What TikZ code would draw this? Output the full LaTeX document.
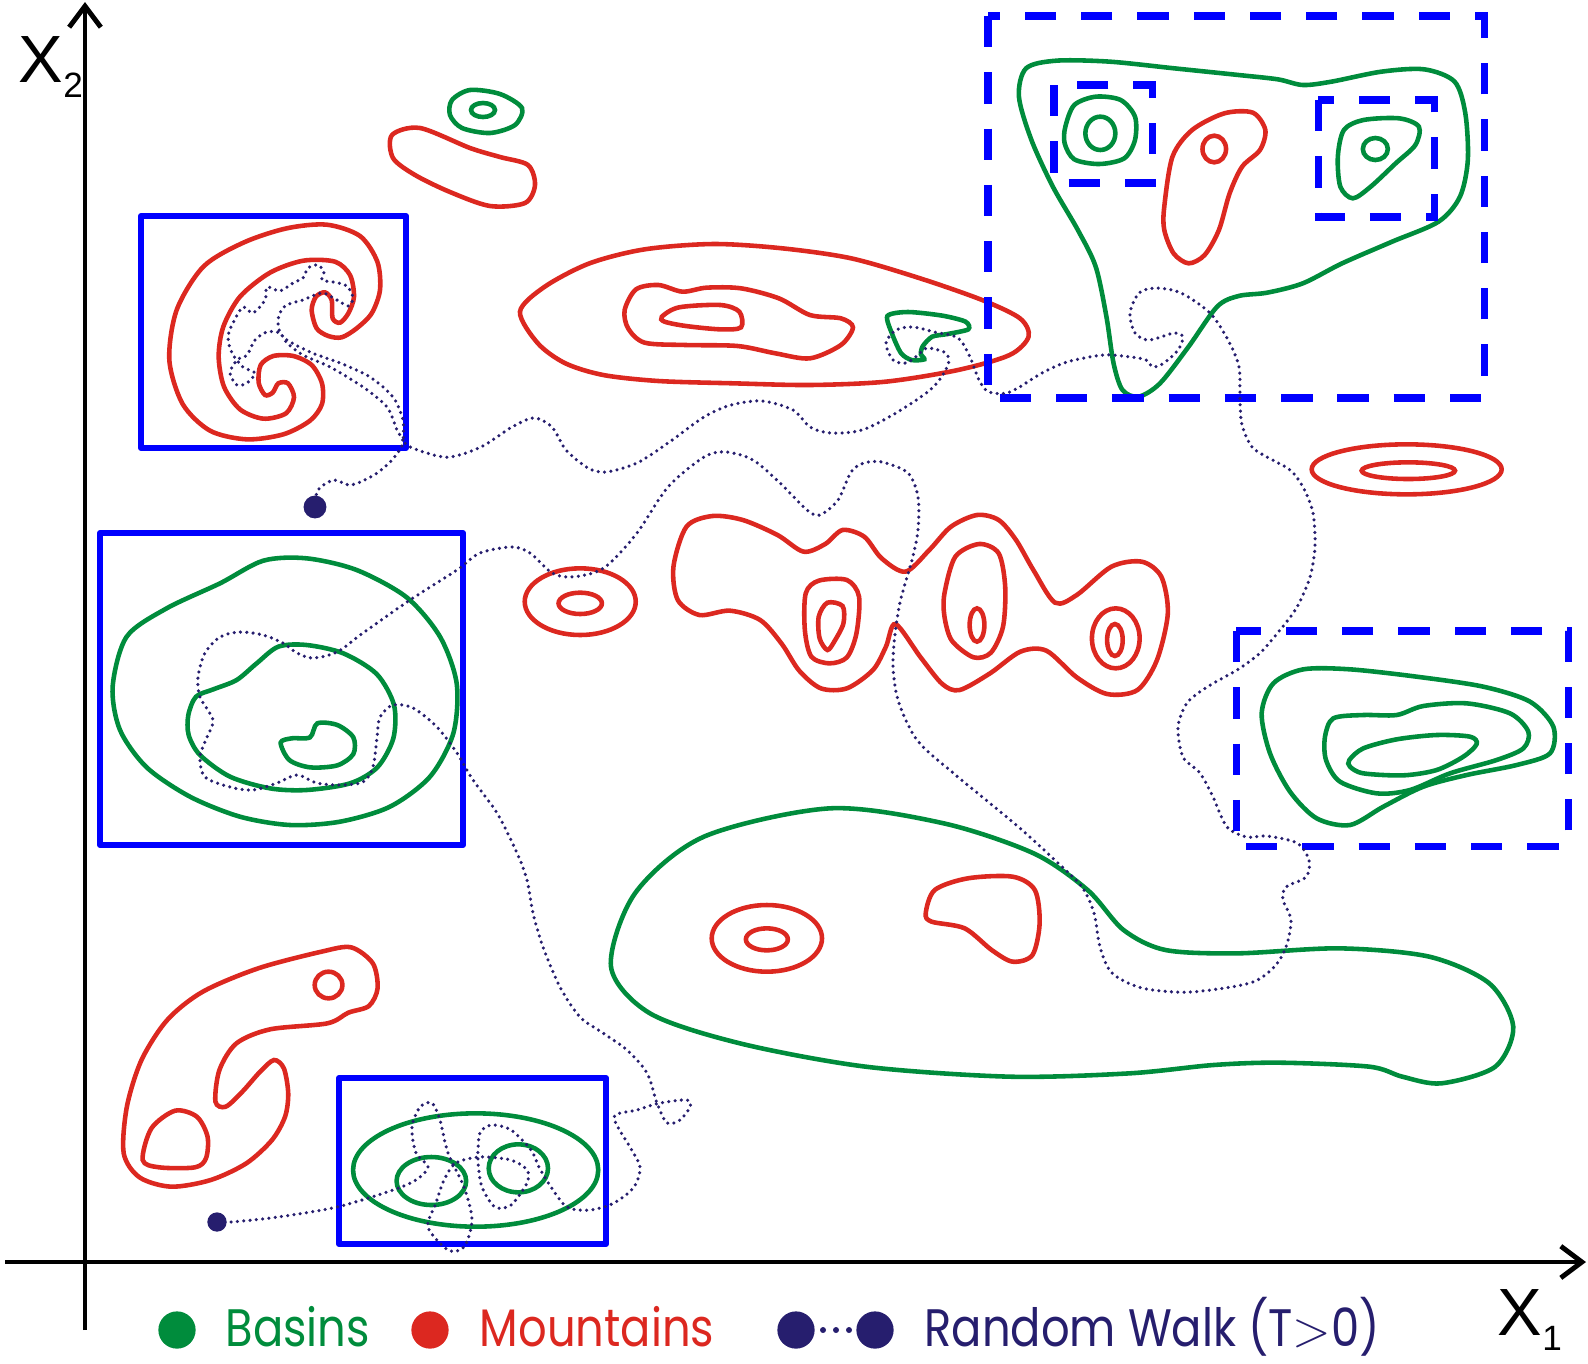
\documentclass[tikz,border=0pt]{standalone}
\usepackage{fontspec}
\setmainfont{Liberation Sans}
\newfontfamily\legendfont{Poppins}[FakeStretch=0.85]
\usepackage{xcolor}
\usetikzlibrary{arrows.meta}
\definecolor{basingreen}{RGB}{0,140,60}
\definecolor{mountred}{RGB}{220,40,32}
\definecolor{boxblue}{RGB}{0,0,255}
\definecolor{walknavy}{RGB}{38,30,110}

\begin{document}
\begin{tikzpicture}[
                x=0.01cm, y=-0.01cm, % 按像素定位
                basin/.style={draw=basingreen, line width=1.3pt},
                mountain/.style={draw=mountred, line width=1.3pt},
                walkline/.style={draw=walknavy, line width=1pt, line cap=round, dash pattern=on 0pt off 1.8pt},
                keybox/.style={draw=boxblue, line width=1.75pt, line join=round},
                dashbox/.style={draw=boxblue, line width=2pt, dash pattern=on 8.9pt off 7.1pt},
                axisline/.style={line width=1.4pt, -{Straight Barb[length=6pt,width=9pt]}},
                legtext/.style={anchor=base west, inner sep=0pt, font=\legendfont\fontsize{15}{15}\selectfont},
                legdot/.style={circle, inner sep=0pt, minimum size=10.6pt},
            ]
            \useasboundingbox (0,0) rectangle (1588,1363);
            % 坐标轴
            \draw[axisline] (85,1330) -- (85,2);
            \draw[axisline] (5,1262) -- (1586,1262);
            \node[anchor=base west, inner sep=0pt, font=\fontsize{19}{19}\selectfont] (xtwo) at (18,82) {X\raisebox{-4.3pt}{\fontsize{10}{10}\selectfont 2}};
            \node[anchor=base west, inner sep=0pt, font=\fontsize{19}{19}\selectfont] (xone) at (1497,1335) {X\raisebox{-4.3pt}{\fontsize{10}{10}\selectfont 1}};

            % 左上：螺旋山
            \begin{scope}[shift={(130,200)}, scale=1/3]
                \draw[mountain] plot[smooth cycle] coordinates {(750,270) (725,340) (680,385) (635,412) (595,408) (560,385) (545,330) (558,290) (585,277) (605,300) (608,355) (630,368) (655,340) (672,290) (660,225) (615,185) (520,182) (420,218) (330,290) (280,380) (266,470) (282,560) (330,628) (400,656) (468,640) (492,592) (474,550) (445,550) (428,578) (405,585) (386,548) (392,495) (430,468) (490,468) (545,495) (576,550) (576,612) (540,662) (460,703) (350,718) (240,692) (158,612) (118,480) (140,330) (220,200) (340,128) (470,85) (590,74) (690,108) (742,185)};
            \end{scope}

            % 上方小山和小盆地
            \draw[mountain] plot[smooth cycle] coordinates {(392,135) (420,128) (470,148) (500,157) (528,165) (535,185) (525,203) (490,206) (450,192) (415,175) (393,158)};
            \draw[basin] plot[smooth cycle] coordinates {(452,100) (470,90) (500,94) (522,108) (515,125) (490,133) (462,128) (450,115)};
            \draw[basin] (483,110) ellipse (12 and 7);

            % 中部长条山
            \begin{scope}[shift={(500,220)}, xscale=1/2.904, yscale=1/3]
                \draw[mountain] plot[smooth cycle] coordinates {(58,275) (130,200) (260,130) (420,88) (620,72) (820,85) (1020,115) (1220,175) (1400,240) (1510,295) (1535,350) (1480,405) (1330,450) (1120,485) (900,495) (680,490) (460,483) (300,465) (190,430) (110,370)};
                \draw[mountain] plot[smooth cycle] coordinates {(362,270) (395,208) (460,195) (530,215) (600,203) (700,205) (810,235) (900,285) (990,295) (1025,322) (990,375) (900,415) (800,400) (690,378) (540,375) (420,368) (372,325)};
                \draw[mountain] plot[smooth cycle] coordinates {(470,290) (520,262) (640,255) (695,275) (700,322) (640,328) (540,318) (478,305)};
                \draw[basin] plot[smooth cycle, tension=0.45] coordinates {(1125,288) (1185,276) (1285,287) (1352,305) (1360,328) (1300,342) (1255,350) (1228,378) (1222,402) (1232,418) (1195,420) (1165,400) (1140,345)};
            \end{scope}

            % 右上大盆地
            \begin{scope}[shift={(960,0)}, xscale=1/2.8, yscale=1/3]
                \draw[basin] plot[smooth cycle] coordinates {(165,290) (185,205) (270,182) (420,185) (600,205) (780,225) (890,238) (960,255) (1040,245) (1180,215) (1300,208) (1385,245) (1415,340) (1422,480) (1400,590) (1340,665) (1210,725) (1070,790) (960,850) (860,878) (780,888) (720,920) (640,1040) (560,1150) (500,1190) (455,1170) (430,1090) (410,950) (380,800) (330,690) (260,560) (200,420)};
                \draw[mountain] plot[smooth cycle] coordinates {(572,620) (595,470) (650,390) (740,340) (820,338) (855,390) (840,450) (790,500) (755,580) (725,690) (685,765) (640,790) (598,760) (572,690)};
                \draw[mountain] (712,447) ellipse (33 and 40);
                \draw[basin] plot[smooth cycle] coordinates {(295,380) (320,315) (380,290) (450,300) (490,350) (490,420) (460,475) (390,492) (320,478) (293,430)};
                \draw[basin] (393,400) ellipse (42 and 50);
                \draw[basin] plot[smooth cycle] coordinates {(1058,470) (1075,390) (1130,360) (1230,355) (1285,380) (1275,435) (1220,490) (1150,560) (1100,595) (1065,560)};
                \draw[basin] (1163,447) ellipse (35 and 33);
            \end{scope}

            % 右侧扁山和盆地
            \begin{scope}[shift={(1150,420)}, scale=1/3]
                \draw[mountain] (770,148) ellipse (285 and 75);
                \draw[mountain] (775,152) ellipse (140 and 25);
                \draw[basin] plot[smooth cycle] coordinates {(335,880) (370,790) (460,748) (600,748) (800,770) (1000,800) (1140,845) (1210,920) (1200,1000) (1100,1035) (950,1065) (820,1100) (700,1160) (600,1215) (500,1195) (420,1115) (360,1000)};
                \draw[basin] plot[smooth cycle] coordinates {(525,950) (550,895) (640,885) (740,885) (820,858) (950,850) (1080,880) (1135,935) (1120,985) (1040,1020) (900,1060) (780,1110) (680,1120) (570,1085) (528,1020)};
                \draw[basin] plot[smooth cycle] coordinates {(598,1020) (640,985) (740,958) (860,945) (960,950) (980,972) (940,1010) (860,1050) (760,1066) (640,1060) (600,1040)};
            \end{scope}

            % 中部山链
            \begin{scope}[shift={(500,420)}, xscale=1/2.306, yscale=1/3]
                \draw[mountain] (185,545) ellipse (128 and 100);
                \draw[mountain] (185,550) ellipse (50 and 32);
                \draw[mountain] plot[smooth cycle] coordinates {(400,440) (430,320) (490,288) (560,300) (640,345) (700,395) (750,372) (790,330) (840,350) (880,415) (935,455) (990,390) (1040,320) (1100,285) (1150,300) (1190,360) (1230,450) (1280,548) (1330,525) (1410,440) (1480,425) (1525,470) (1540,580) (1515,720) (1470,810) (1400,822) (1330,772) (1260,692) (1200,695) (1130,760) (1060,810) (1020,792) (970,712) (912,612) (890,680) (860,750) (800,805) (740,805) (690,752) (650,672) (600,600) (530,572) (460,585) (410,540)};
                \draw[mountain] plot[smooth cycle] coordinates {(705,520) (735,482) (800,480) (828,530) (822,640) (800,712) (760,730) (718,710) (703,630)};
                \draw[mountain] plot[smooth cycle] coordinates {(735,590) (755,548) (790,558) (792,610) (772,662) (755,690) (737,655)};
                \draw[mountain] plot[smooth cycle] coordinates {(1025,520) (1050,410) (1105,372) (1150,400) (1165,500) (1160,620) (1132,698) (1092,712) (1042,662) (1025,590)};
                \draw[mountain] (1100,615) ellipse (17 and 50);
                \draw[mountain] (1420,655) ellipse (55 and 90);
                \draw[mountain] (1418,660) ellipse (18 and 48);
            \end{scope}

            % 左中盆地
            \begin{scope}[shift={(90,520)}, scale=1/3]
                \draw[basin] plot[smooth cycle] coordinates {(68,500) (110,350) (230,265) (390,190) (520,122) (650,115) (800,150) (950,232) (1050,350) (1100,490) (1090,640) (1020,770) (900,860) (750,905) (600,915) (450,890) (300,830) (170,742) (90,630)};
                \draw[basin] plot[smooth cycle] coordinates {(295,585) (318,530) (370,508) (440,480) (500,430) (565,380) (650,375) (760,400) (860,462) (912,555) (910,655) (862,742) (780,790) (650,810) (540,805) (420,770) (330,705) (296,645)};
                \draw[basin] plot[smooth cycle] coordinates {(572,668) (605,655) (660,652) (682,610) (742,615) (790,652) (790,702) (742,736) (660,742) (598,720)};
            \end{scope}

            % 左下山和盆地
            \begin{scope}[shift={(100,920)}, xscale=1/2.529, yscale=1/3]
                \draw[mountain] plot[smooth cycle] coordinates {(170,300) (260,215) (400,145) (560,95) (635,82) (690,130) (702,205) (680,258) (628,278) (575,310) (430,328) (345,370) (302,450) (292,545) (318,560) (360,515) (405,455) (440,420) (465,445) (476,520) (468,590) (435,660) (370,730) (280,780) (180,800) (100,772) (60,700) (68,560) (105,420)};
                \draw[mountain] plot[smooth cycle] coordinates {(108,720) (130,625) (190,572) (245,590) (272,650) (268,715) (240,742) (150,742)};
                \draw[mountain] (578,195) ellipse (35 and 40);
                \draw[basin] (950,750) ellipse (310 and 170);
                \draw[basin] (838,783) ellipse (88 and 72);
                \draw[basin] (1058,745) ellipse (75 and 72);
            \end{scope}

            % 右下大盆地
            \begin{scope}[shift={(590,780)}, xscale=1/1.668, yscale=1/3]
                \draw[basin] plot[smooth cycle] coordinates {(35,560) (75,340) (190,170) (400,85) (590,130) (740,220) (830,330) (890,450) (960,510) (1080,520) (1250,505) (1400,530) (1500,610) (1540,740) (1510,860) (1420,910) (1355,890) (1300,860) (1150,848) (1040,855) (900,880) (700,890) (460,860) (250,790) (100,700)};
                \draw[mountain] (295,475) ellipse (92 and 100);
                \draw[mountain] (295,478) ellipse (35 and 33);
                \draw[mountain] plot[smooth cycle] coordinates {(560,400) (575,330) (630,295) (705,290) (742,330) (750,430) (738,525) (705,545) (670,510) (625,445) (570,425)};
            \end{scope}

            % 方框
            \draw[keybox] (141,216) rectangle (406,448);
            \draw[keybox] (100,533) rectangle (463,845);
            \draw[keybox] (339,1078) rectangle (606,1244);
            \draw[dashbox] (988,16) rectangle (1484,398);
            \draw[dashbox] (1054,85) rectangle (1152,183);
            \draw[dashbox] (1318,100) rectangle (1434,217);
            \draw[dashbox] (1236,631) rectangle (1568,846);

            % 随机游走
            \node[legdot, fill=walknavy, minimum size=6.5pt] (walkstart) at (315,507) {};
            \node[legdot, fill=walknavy, minimum size=5.5pt] (walkend) at (217,1222) {};
            \draw[walkline] plot[smooth, tension=0.5] coordinates {(walkstart) (318,490) (334,480) (351,485) (374,475) (392,460) (403,443)
                (397,430) (387,407) (363,387) (330,367) (303,355) (287,343)
                (280,333) (267,332) (255,340) (247,355) (237,360) (230,373) (237,385) (247,383) (255,373) (243,367) (232,353) (228,337) (233,323) (243,307) (253,313) (265,300) (267,287) (280,291) (293,283) (303,278) (308,268) (318,265) (324,272) (322,280) (333,282) (347,286) (353,298) (348,306) (337,300) (322,293) (303,300) (285,306) (278,320) (283,337)
                (310,352) (340,363) (370,377) (393,397) (403,420) (405,443)
                (427,453) (450,457) (481,447) (512,427) (534,418) (552,427) (566,450) (588,468) (606,472) (637,463) (668,443) (704,417) (731,405) (762,401) (793,410) (810,427) (831,433) (862,430) (896,413) (930,390) (944,373) (949,360) (944,352) (927,348) (918,355) (906,363) (893,360) (886,343) (896,330) (913,327) (934,332) (958,338) (970,357) (979,380) (989,392) (1010,392) (1042,373) (1067,362) (1103,355) (1131,357) (1146,360) (1153,367) (1164,363) (1178,350) (1183,337) (1174,333) (1149,340) (1135,333) (1130,313) (1139,293) (1156,288) (1181,293) (1210,313) (1228,340) (1239,367) (1240,400) (1242,425) (1252,447) (1267,457) (1290,470) (1303,487) (1313,513) (1315,547) (1310,577) (1297,607) (1280,630) (1260,653) (1237,670) (1207,687) (1187,703) (1178,727) (1183,757) (1200,773) (1213,797) (1227,827) (1247,837) (1267,836) (1297,843) (1309,860) (1306,877) (1286,887) (1283,900) (1291,920) (1286,947) (1274,967) (1250,983) (1190,992) (1142,988) (1112,973) (1100,947) (1094,913) (1082,887) (1058,863) (1022,830) (986,800) (952,772) (917,740) (898,700) (893,660) (899,607) (912,560) (918,530) (918,497) (908,473) (882,462) (864,463) (851,472) (838,500) (820,515) (807,510) (780,483) (753,460) (726,452) (704,457) (668,487) (637,533) (610,563) (593,573) (570,577) (552,573) (530,553) (512,547) (480,553) (457,570) (410,600) (363,633) (337,652) (313,658) (297,653) (283,643) (263,635) (240,632) (220,637) (205,653) (198,677) (200,697) (213,720) (207,737) (200,757) (205,777) (230,787) (253,790) (277,783) (297,775) (317,783) (340,785) (363,782) (373,767) (377,737) (380,717) (393,705) (413,708) (437,727) (457,753) (473,780) (497,813) (517,853) (527,880) (533,913) (543,947) (560,987) (580,1017) (603,1033) (627,1050) (647,1073) (657,1103) (667,1123) (680,1120) (690,1107) (687,1100) (660,1103) (637,1110) (614,1117) (630,1147) (640,1167) (634,1187) (614,1203) (590,1210) (567,1207) (551,1187) (539,1167) (531,1150) (511,1130) (492,1125) (480,1133) (478,1160) (482,1187) (495,1207) (511,1205) (527,1183) (527,1170) (511,1160) (480,1157) (456,1163) (444,1180) (436,1203) (428,1227) (448,1250) (464,1247) (472,1220) (464,1187) (448,1153) (440,1120) (432,1103) (420,1107) (412,1127) (416,1153) (428,1167) (416,1180) (393,1190) (337,1207) (278,1217) (231,1222) (walkend)};

            % 图例
            \node[legdot, fill=basingreen] (basindot) at (177,1330) {};
            \node[legtext, text=basingreen] (basintext) at (225,1346) {Basins};
            \node[legdot, fill=mountred] (mountdot) at (430,1330) {};
            \node[legtext, text=mountred] (mounttext) at (479,1346) {Mountains};
            \node[legdot, fill=walknavy] (walkdotA) at (796,1330) {};
            \node[legdot, fill=walknavy] (walkdotB) at (875,1330) {};
            \foreach \i in {823,836,849} \fill[walknavy] (\i,1330) circle (3);
            \node[legtext, text=walknavy] (walktext) at (924,1346) {Random Walk (T$>$0)};
            \end{tikzpicture}
\end{document}
